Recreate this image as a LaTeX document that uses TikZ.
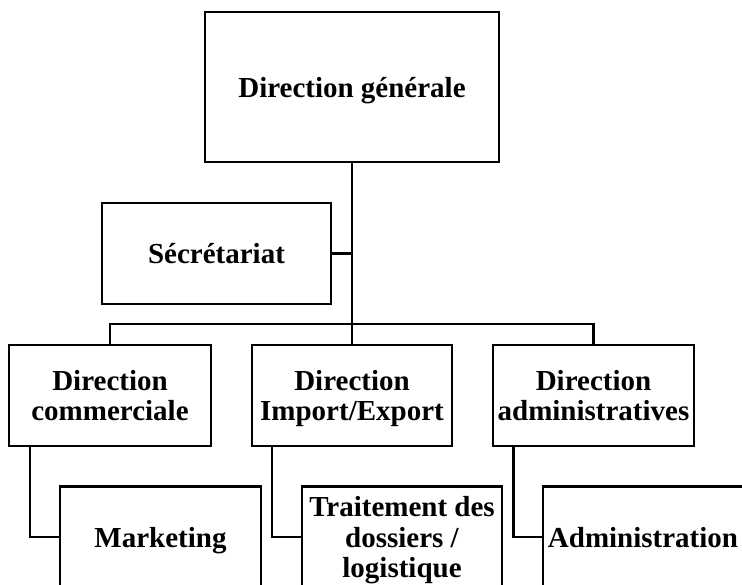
\documentclass[tikz,border=0pt]{standalone}
\usepackage{fontspec}
\setmainfont{Liberation Serif}
\begin{document}
\begin{tikzpicture}[x=1pt,y=-1pt,
  box/.style={draw=black, line width=2.6pt, rectangle, inner sep=0pt, align=center,
    text depth=0pt, font=\bfseries\fontsize{29}{30.5}\selectfont},
  link/.style={draw=black, line width=2.6pt}]
\useasboundingbox (0,0) rectangle (742,585);
\begin{scope}
\clip (0,0) rectangle (742,585);
\node[box, minimum width=294pt, minimum height=150pt] (dg) at (352,87) {Direction générale};
\node[box, minimum width=229pt, minimum height=101pt] (sec) at (216.5,253.5) {Sécrétariat};
\node[box, minimum width=202pt, minimum height=101pt] (dc) at (110,395.5) {Direction\\commerciale};
\node[box, minimum width=200pt, minimum height=101pt] (die) at (352,395.5) {Direction\\Import/Export};
\node[box, minimum width=201pt, minimum height=101pt] (da) at (593.5,395.5) {Direction\\administratives};
\node[box, minimum width=201pt, minimum height=101pt] (mk) at (160.5,537) {Marketing};
\node[box, minimum width=200pt, minimum height=101pt] (tr) at (402,537) {Traitement des\\dossiers /\\logistique};
\node[box, minimum width=200pt, minimum height=101pt] (adm) at (643,537) {Administration};
\coordinate (bar) at (352,324);
\draw[link] (dg.south) -- (die.north);
\draw[link] (sec.east) -- (sec.east -| dg.south);
\draw[link] (dc.north) |- (bar) -| (da.north);
\draw[link] ([xshift=-80pt]dc.south) |- (mk.west);
\draw[link] ([xshift=-80pt]die.south) |- (tr.west);
\draw[link] ([xshift=-80pt]da.south) |- (adm.west);
\end{scope}
\end{tikzpicture}
\end{document}
